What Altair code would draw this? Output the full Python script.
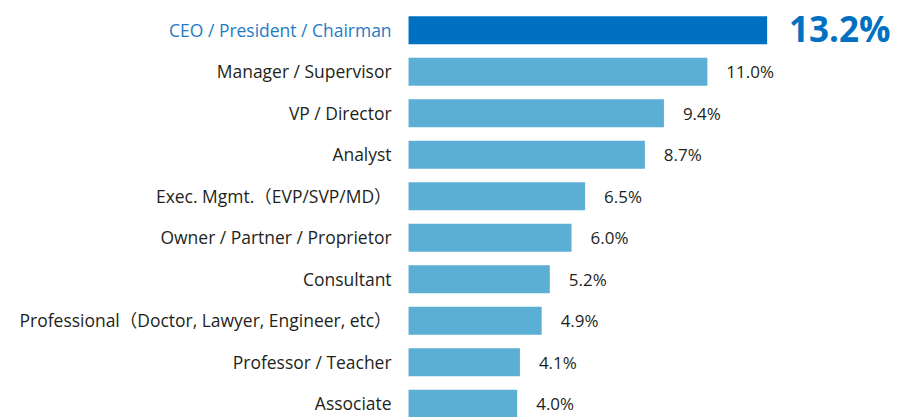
import altair as alt
import pandas as pd

categories = [
    "CEO / President / Chairman",
    "Manager / Supervisor",
    "VP / Director",
    "Analyst",
    "Exec. Mgmt.（EVP/SVP/MD）",
    "Owner / Partner / Proprietor",
    "Consultant",
    "Professional（Doctor, Lawyer, Engineer, etc）",
    "Professor / Teacher",
    "Associate",
]
values = [13.2, 11.0, 9.4, 8.7, 6.5, 6.0, 5.2, 4.9, 4.1, 4.0]
highlight = [True, False, False, False, False, False, False, False, False, False]

df = pd.DataFrame({
    "category": categories,
    "value": values,
    "top": highlight,
    "label": [f"{v:.1f}%" for v in values],
})

FONT = "Open Sans, Noto Sans CJK JP, sans-serif"

y_enc = alt.Y("category:N", sort=categories, axis=None,
              scale=alt.Scale(range=[8, 410], paddingInner=0.326, paddingOuter=0))
x_scale = alt.Scale(domain=[0, 13.2], nice=False, zero=True)

base = alt.Chart(df)

bars = base.mark_bar().encode(
    y=y_enc,
    x=alt.X("value:Q", scale=x_scale, axis=None),
    color=alt.condition("datum.top", alt.value("#0070C0"), alt.value("#5BAED4")),
)

cat_labels = base.mark_text(align="right", baseline="middle", font=FONT, fontSize=17.5, dy=1.5).encode(
    y=y_enc,
    x=alt.value(-17),
    text="category:N",
    color=alt.condition("datum.top", alt.value("#1F7BC4"), alt.value("#231F20")),
)

val_labels = base.transform_filter("!datum.top").mark_text(
    align="left", baseline="middle", font=FONT, fontSize=17, dx=19, dy=1.5, color="#231F20"
).encode(
    y=y_enc,
    x=alt.X("value:Q", scale=x_scale),
    text="label:N",
)

top_label = base.transform_filter("datum.top").mark_text(
    align="left", baseline="middle", font=FONT, fontSize=35, fontWeight="bold",
    dx=22, dy=1, color="#0070C0"
).encode(
    y=y_enc,
    x=alt.X("value:Q", scale=x_scale),
    text="label:N",
)

chart = alt.layer(bars, cat_labels, val_labels, top_label).properties(
    width=359,
    height=409,
    autosize=alt.AutoSizeParams(type="none"),
    padding={"left": 401, "top": 0, "right": 125, "bottom": 0},
).configure_view(stroke=None)

chart.save("out.html", embed_options={"renderer": "svg", "actions": False})
